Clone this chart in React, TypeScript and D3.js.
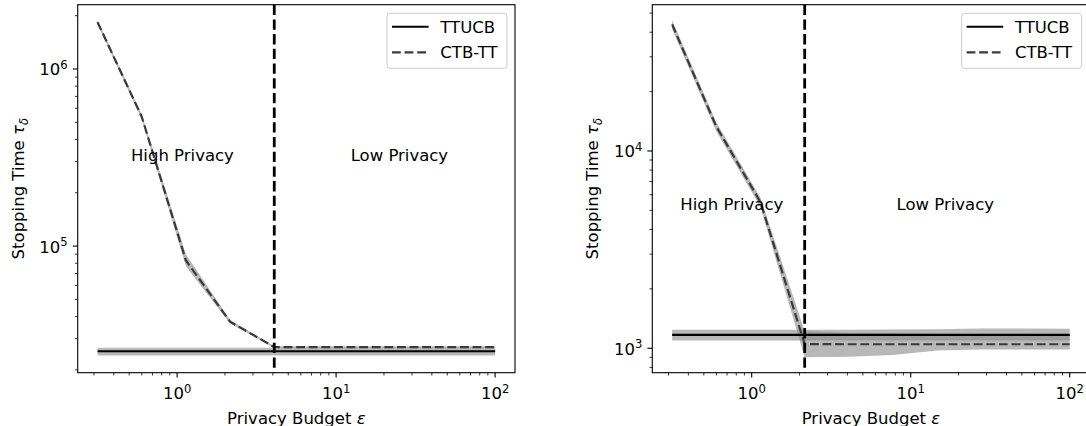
import React from 'react';
import * as d3 from 'd3';

// privacy budgets (same grid for both panels)
const eps = [0.316, 0.599, 1.136, 2.154, 4.084, 7.743, 14.68, 27.83, 52.75, 100];

// left panel
const leftTTUCB = [25500, 25500, 25500, 25500, 25500, 25500, 25500, 25500, 25500, 25500];
const leftTTUCBLo = [24100, 24100, 24100, 24100, 24100, 24100, 24100, 24100, 24100, 24100];
const leftTTUCBHi = [26700, 26700, 26700, 26700, 26700, 26700, 26700, 26700, 26700, 26700];
const leftCTB = [1840000, 538000, 83000, 37400, 26900, 26900, 26900, 26900, 26900, 26900];
const leftCTBLo = [1790000, 522000, 77000, 36600, 26600, 26600, 26600, 26600, 26600, 26600];
const leftCTBHi = [1890000, 555000, 90000, 38300, 27200, 27200, 27200, 27200, 27200, 27200];

// right panel
const rightTTUCB = [1170, 1170, 1170, 1170, 1170, 1170, 1170, 1170, 1170, 1170];
const rightTTUCBLo = [1095, 1095, 1095, 1095, 1095, 1095, 1095, 1095, 1095, 1095];
const rightTTUCBHi = [1240, 1240, 1240, 1240, 1240, 1245, 1250, 1260, 1260, 1255];
const rightCTB = [43800, 13300, 5500, 1050, 1048, 1048, 1048, 1048, 1048, 1048];
const rightCTBLo = [41500, 12600, 5200, 900, 905, 925, 975, 985, 985, 985];
const rightCTBHi = [46000, 14000, 5800, 1220, 1195, 1190, 1180, 1170, 1170, 1170];

const xMajor = [1, 10, 100];
const xMajorExp = ['0', '1', '2'];
const leftYMajor = [1e5, 1e6];
const leftYMajorExp = ['5', '6'];
const rightYMajor = [1e3, 1e4];
const rightYMajorExp = ['3', '4'];

const legendNames = ['TTUCB', 'CTB-TT'];
const regionNames = ['High Privacy', 'Low Privacy'];

const FONT = 'DejaVu Sans';
const FS = 16.5;
const DASH = '8.8,3.8';
const CTB_COLOR = '#3a3a3a';

interface PanelProps {
  left: number;
  yDomain: [number, number];
  yMajor: number[];
  yMajorExp: string[];
  tt: number[]; ttLo: number[]; ttHi: number[];
  ctb: number[]; ctbLo: number[]; ctbHi: number[];
  split: number;
  textX: [number, number];
  textY: number;
  ylabelX: number;
}

const Panel: React.FC<PanelProps> = (p) => {
  const top = 4.7, bottom = 372.7, width = 437.3;
  const right = p.left + width;
  const x = d3.scaleLog().domain([Math.pow(10, -0.625), Math.pow(10, 2.125)]).range([p.left, right]);
  const y = d3.scaleLog().domain(p.yDomain).range([bottom, top]);

  const line = (vals: number[]) =>
    d3.line<number>().x((_, i) => x(eps[i])).y(d => y(d))(vals) || '';
  const area = (lo: number[], hi: number[]) =>
    d3.area<number>().x((_, i) => x(eps[i])).y0((_, i) => y(lo[i])).y1(d => y(d))(hi) || '';

  const isPow = (v: number) => Math.abs(Math.log10(v) - Math.round(Math.log10(v))) < 1e-9;
  const xMinor = x.ticks().filter(v => !isPow(v));
  const yMinor = y.ticks().filter(v => !isPow(v));

  const band = '#888888';
  const cx = (p.left + right) / 2;
  const legX = right - 8 - 120, legY = 13.3;

  return (
    <g fontFamily={FONT} fontSize={FS}>
      <path d={area(p.ttLo, p.ttHi)} fill={band} fillOpacity={0.6} />
      <path d={area(p.ctbLo, p.ctbHi)} fill={band} fillOpacity={0.6} />
      <path d={line(p.tt)} fill="none" stroke="#000" strokeWidth={2.1} />
      <path d={line(p.ctb)} fill="none" stroke={CTB_COLOR} strokeWidth={2.2} strokeDasharray={DASH} />
      <line x1={x(p.split)} x2={x(p.split)} y1={top} y2={bottom} stroke="#000" strokeWidth={2.8} strokeDasharray="10.3,4.4" />

      <text x={x(p.textX[0])} y={y(p.textY)} textAnchor="middle" dominantBaseline="central">{regionNames[0]}</text>
      <text x={x(p.textX[1])} y={y(p.textY)} textAnchor="middle" dominantBaseline="central">{regionNames[1]}</text>

      {/* spines */}
      <rect x={p.left} y={top} width={width} height={bottom - top} fill="none" stroke="#000" strokeWidth={1.1} />

      {/* x ticks */}
      {xMajor.map((v, i) => (
        <g key={'xM' + v}>
          <line x1={x(v)} x2={x(v)} y1={bottom} y2={bottom + 4.9} stroke="#000" strokeWidth={1.1} />
          <text x={x(v)} y={bottom + 26.6} textAnchor="middle">
            <tspan>10</tspan>
            <tspan dy={-6.5} fontSize={FS * 0.7}>{xMajorExp[i]}</tspan>
          </text>
        </g>
      ))}
      {xMinor.map(v => (
        <line key={'xm' + v} x1={x(v)} x2={x(v)} y1={bottom} y2={bottom + 2.8} stroke="#000" strokeWidth={0.8} />
      ))}

      {/* y ticks */}
      {p.yMajor.map((v, i) => (
        <g key={'yM' + v}>
          <line x1={p.left - 4.9} x2={p.left} y1={y(v)} y2={y(v)} stroke="#000" strokeWidth={1.1} />
          <text x={p.left - 10} y={y(v) + 6.5} textAnchor="end">
            <tspan>10</tspan>
            <tspan dy={-6.5} fontSize={FS * 0.7}>{p.yMajorExp[i]}</tspan>
          </text>
        </g>
      ))}
      {yMinor.map(v => (
        <line key={'ym' + v} x1={p.left - 2.8} x2={p.left} y1={y(v)} y2={y(v)} stroke="#000" strokeWidth={0.8} />
      ))}

      {/* axis labels */}
      <text x={cx} y={423.5} textAnchor="middle">
        Privacy Budget <tspan fontStyle="italic">ε</tspan>
      </text>
      <text transform={`translate(${p.ylabelX},${(top + bottom) / 2}) rotate(-90)`} textAnchor="middle">
        Stopping Time <tspan fontStyle="italic">τ</tspan>
        <tspan fontStyle="italic" fontSize={FS * 0.7} dy={4}>δ</tspan>
      </text>

      {/* legend */}
      <rect x={legX} y={legY} width={120} height={55} rx={3} fill="#fff" fillOpacity={0.8} stroke="#cccccc" strokeWidth={1} />
      <line x1={legX + 5} x2={legX + 41.6} y1={legY + 13.4} y2={legY + 13.4} stroke="#000" strokeWidth={2.1} />
      <text x={legX + 53.3} y={legY + 19.4}>{legendNames[0]}</text>
      <line x1={legX + 5} x2={legX + 41.6} y1={legY + 39} y2={legY + 39} stroke={CTB_COLOR} strokeWidth={2.2} strokeDasharray={DASH} />
      <text x={legX + 53.3} y={legY + 45}>{legendNames[1]}</text>
    </g>
  );
};

export default function App() {
  return (
    <div style={{ position: 'absolute', left: 0, top: 0 }}>
      <svg width={1086} height={426} style={{ display: 'block', background: '#fff' }}>
        <Panel
          left={77.7}
          yDomain={[19275, 2307000]}
          yMajor={leftYMajor}
          yMajorExp={leftYMajorExp}
          tt={leftTTUCB} ttLo={leftTTUCBLo} ttHi={leftTTUCBHi}
          ctb={leftCTB} ctbLo={leftCTBLo} ctbHi={leftCTBHi}
          split={4.084}
          textX={[1.08, 25]}
          textY={324000}
          ylabelX={23.5}
        />
        <Panel
          left={652.3}
          yDomain={[752, 55140]}
          yMajor={rightYMajor}
          yMajorExp={rightYMajorExp}
          tt={rightTTUCB} ttLo={rightTTUCBLo} ttHi={rightTTUCBHi}
          ctb={rightCTB} ctbLo={rightCTBLo} ctbHi={rightCTBHi}
          split={2.154}
          textX={[0.75, 16.5]}
          textY={5370}
          ylabelX={598}
        />
      </svg>
    </div>
  );
}
